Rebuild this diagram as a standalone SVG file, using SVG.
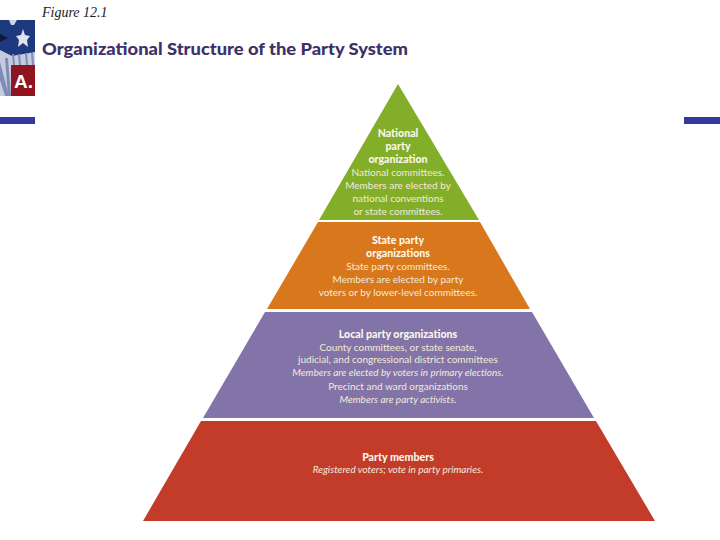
<svg xmlns="http://www.w3.org/2000/svg" width="720" height="540" viewBox="0 0 720 540">
<style>
text{font-family:"Lato","Open Sans",sans-serif;fill:#f3ead8;text-anchor:middle;font-size:10px}
.b{font-weight:900;fill:#fbf6e8;font-size:10.6px}
.i{font-style:italic}
</style>
<rect width="720" height="540" fill="#fff"/>
<g id="flag">
<rect x="0" y="20" width="35" height="76" fill="#1d3a7e"/>
<path d="M0 50 L12 56 L35 52 L35 96 L0 96Z" fill="#c6cce0"/>
<path d="M0 62 L9 96 L5 96 L0 80Z M8 58 L11 96 L8 96 L5 58Z M14 54 L15 65 L13 65 L12 54Z M20 54 L21 65 L19 65 L18 54Z M27 53 L28 65 L26 65 L25 53Z M33 53 L34 65 L32 65 L31 53Z" fill="#7f8db5"/>
<path d="M0 34 L8 38 L0 42Z" fill="#101a3a"/>
<polygon points="23,29 25,35 30,36 27,40 28,47 23,43 18,47 19,40 16,36 21,35" fill="#dfe4f0"/>
<polygon points="9,20 17,20 14,25 11,25" fill="#cdd3e6"/>
<rect x="11" y="65" width="24" height="31" fill="#8f1420"/>
<text x="23.5" y="88" style="font-family:'Liberation Sans',sans-serif;font-weight:700;font-size:19px;fill:#fff">A.</text>
</g>
<rect id="bar-left" x="0" y="117" width="35" height="7" fill="#34399a"/>
<rect id="bar-right" x="684" y="117" width="36" height="7" fill="#34399a"/>
<g id="title">
<text x="42" y="17" style="text-anchor:start;font-family:'Liberation Serif',serif;font-style:italic;font-size:14px;fill:#222">Figure 12.1</text>
<text x="42" y="55" textLength="366" lengthAdjust="spacingAndGlyphs" style="text-anchor:start;font-family:'Lato',sans-serif;font-weight:900;font-size:17px;fill:#3d3168">Organizational Structure of the Party System</text>
</g>
<g id="national">
<polygon points="398,84 479,220 319,220" fill="#83ae2a"/>
<text class="b" x="398" y="137">National</text>
<text class="b" x="398" y="150">party</text>
<text class="b" x="398" y="163">organization</text>
<text x="398" y="176">National committees.</text>
<text x="398" y="189">Members are elected by</text>
<text x="398" y="202">national conventions</text>
<text x="398" y="215">or state committees.</text>
</g>
<g id="state">
<polygon points="318,222 480,222 530,309 267,309" fill="#d9771c"/>
<text class="b" x="398" y="244">State party</text>
<text class="b" x="398" y="257">organizations</text>
<text x="398" y="270">State party committees.</text>
<text x="398" y="283">Members are elected by party</text>
<text x="398" y="296">voters or by lower-level committees.</text>
</g>
<g id="local">
<polygon points="265,312 532,312 594,418 203,418" fill="#8274a8"/>
<text class="b" x="398" y="338">Local party organizations</text>
<text x="398" y="351">County committees, or state senate,</text>
<text x="398" y="363">judicial, and congressional district committees</text>
<text class="i" x="398" y="376">Members are elected by voters in primary elections.</text>
<text x="398" y="390">Precinct and ward organizations</text>
<text class="i" x="398" y="403">Members are party activists.</text>
</g>
<g id="members">
<polygon points="201,421 596,421 655,521 143,521" fill="#c33c2a"/>
<text class="b" x="398" y="461">Party members</text>
<text class="i" x="398" y="473">Registered voters; vote in party primaries.</text>
</g>
</svg>
